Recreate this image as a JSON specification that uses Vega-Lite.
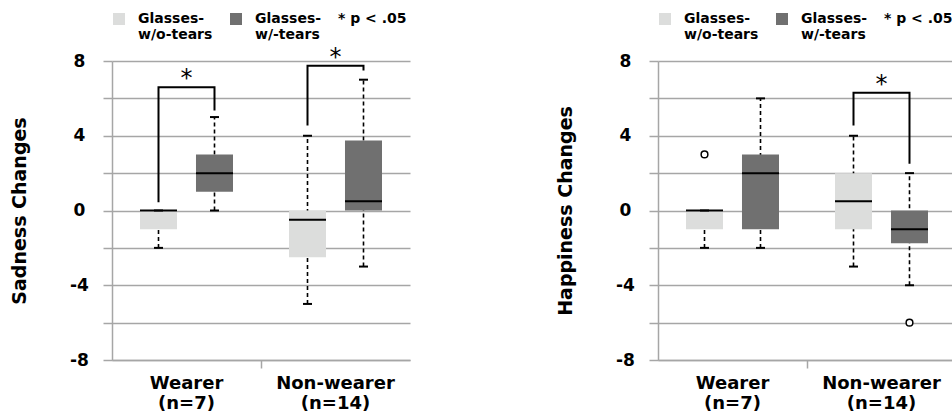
{
  "$schema": "https://vega.github.io/schema/vega-lite/v6.json",
  "padding": {"left": 10, "top": 12, "right": 0, "bottom": 0},
  "background": "white",
  "spacing": 146,
  "datasets": {
    "boxes": [
      {"panel": "S", "group": "Wearer", "cond": "Glasses-w/o-tears", "lo": -2, "q1": -1, "med": 0, "q3": 0, "hi": 0},
      {"panel": "S", "group": "Wearer", "cond": "Glasses-w/-tears", "lo": 0, "q1": 1, "med": 2, "q3": 3, "hi": 5},
      {"panel": "S", "group": "Non-wearer", "cond": "Glasses-w/o-tears", "lo": -5, "q1": -2.5, "med": -0.5, "q3": 0, "hi": 4},
      {"panel": "S", "group": "Non-wearer", "cond": "Glasses-w/-tears", "lo": -3, "q1": 0, "med": 0.5, "q3": 3.75, "hi": 7},
      {"panel": "H", "group": "Wearer", "cond": "Glasses-w/o-tears", "lo": -2, "q1": -1, "med": 0, "q3": 0, "hi": 0},
      {"panel": "H", "group": "Wearer", "cond": "Glasses-w/-tears", "lo": -2, "q1": -1, "med": 2, "q3": 3, "hi": 6},
      {"panel": "H", "group": "Non-wearer", "cond": "Glasses-w/o-tears", "lo": -3, "q1": -1, "med": 0.5, "q3": 2, "hi": 4},
      {"panel": "H", "group": "Non-wearer", "cond": "Glasses-w/-tears", "lo": -4, "q1": -1.75, "med": -1, "q3": 0, "hi": 2}
    ],
    "outliers": [
      {"panel": "H", "group": "Wearer", "cond": "Glasses-w/o-tears", "v": 3},
      {"panel": "H", "group": "Non-wearer", "cond": "Glasses-w/-tears", "v": -6}
    ],
    "brackets": [
      {"panel": "S", "br": "SW", "group": "Wearer", "cond": "Glasses-w/o-tears", "y": 0.5, "ord": 1},
      {"panel": "S", "br": "SW", "group": "Wearer", "cond": "Glasses-w/o-tears", "y": 6.6, "ord": 2},
      {"panel": "S", "br": "SW", "group": "Wearer", "cond": "Glasses-w/-tears", "y": 6.6, "ord": 3},
      {"panel": "S", "br": "SW", "group": "Wearer", "cond": "Glasses-w/-tears", "y": 5.4, "ord": 4},
      {"panel": "S", "br": "SN", "group": "Non-wearer", "cond": "Glasses-w/o-tears", "y": 4.6, "ord": 1},
      {"panel": "S", "br": "SN", "group": "Non-wearer", "cond": "Glasses-w/o-tears", "y": 7.75, "ord": 2},
      {"panel": "S", "br": "SN", "group": "Non-wearer", "cond": "Glasses-w/-tears", "y": 7.75, "ord": 3},
      {"panel": "S", "br": "SN", "group": "Non-wearer", "cond": "Glasses-w/-tears", "y": 7.55, "ord": 4},
      {"panel": "H", "br": "HN", "group": "Non-wearer", "cond": "Glasses-w/o-tears", "y": 4.6, "ord": 1},
      {"panel": "H", "br": "HN", "group": "Non-wearer", "cond": "Glasses-w/o-tears", "y": 6.3, "ord": 2},
      {"panel": "H", "br": "HN", "group": "Non-wearer", "cond": "Glasses-w/-tears", "y": 6.3, "ord": 3},
      {"panel": "H", "br": "HN", "group": "Non-wearer", "cond": "Glasses-w/-tears", "y": 2.55, "ord": 4}
    ],
    "stars": [
      {"panel": "S", "group": "Wearer", "y": 6.6, "t": "*"},
      {"panel": "S", "group": "Non-wearer", "y": 7.75, "t": "*"},
      {"panel": "H", "group": "Non-wearer", "y": 6.3, "t": "*"}
    ]
  },
  "resolve": {"scale": {"color": "independent"}, "legend": {"color": "independent"}},
  "hconcat": [
    {
      "width": 298,
      "height": 299,
      "encoding": {
        "x": {
          "field": "group", "type": "nominal", "title": null,
          "scale": {"domain": ["Wearer", "Non-wearer"], "paddingInner": 0, "paddingOuter": 0},
          "axis": {
            "labelAngle": 0,
            "labelExpr": "datum.value === 'Wearer' ? ['Wearer', '(n=7)'] : ['Non-wearer', '(n=14)']",
            "labelFont": "DejaVu Sans", "labelFontWeight": "bold", "labelFontSize": 18, "labelColor": "black",
            "labelLineHeight": 20, "labelPadding": 6, "labelBaseline": "top",
            "domainColor": "#a6a6a6", "domainWidth": 1.5,
            "tickSize": 8, "tickColor": "#a6a6a6", "tickWidth": 1.5, "bandPosition": 1,
            "tickOpacity": {"condition": {"test": "datum.value === 'Wearer'", "value": 1}, "value": 0},
            "grid": false
          }
        }
      },
      "layer": [
        {
          "data": {"name": "boxes"},
          "transform": [{"filter": "datum.panel === 'S'"}],
          "mark": {"type": "rule", "color": "black", "strokeWidth": 1.6, "strokeDash": [4, 3]},
          "encoding": {
            "xOffset": {"field": "cond", "type": "nominal", "scale": {"domain": ["Glasses-w/o-tears", "Glasses-w/-tears"], "paddingInner": 0.339, "paddingOuter": 0.5}},
            "y": {
              "field": "lo", "type": "quantitative",
              "scale": {"domain": [-8, 8], "nice": false, "zero": false},
              "axis": {
                "values": [-8, -6, -4, -2, 0, 2, 4, 6, 8],
                "tickCount": 20, "labelOverlap": false,
                "labelExpr": "datum.value % 4 === 0 ? toString(datum.value) : ' '",
                "tickSize": 9, "tickColor": "#a6a6a6", "tickWidth": 1.5,
                "domainColor": "#a6a6a6", "domainWidth": 1.5,
                "grid": true, "gridColor": "#a6a6a6", "gridWidth": 1.5,
                "labelAlign": "center", "labelPadding": 24,
                "labelFont": "DejaVu Sans", "labelFontSize": 17, "labelFontWeight": "bold", "labelColor": "black",
                "title": "Sadness Changes", "titleFont": "DejaVu Sans", "titleFontSize": 19, "titleFontWeight": "bold", "titleColor": "black", "titlePadding": 40
              }
            },
            "y2": {"field": "hi"}
          }
        },
        {
          "data": {"name": "boxes"},
          "transform": [{"filter": "datum.panel === 'S'"}],
          "mark": {"type": "bar", "opacity": 1},
          "encoding": {
            "xOffset": {"field": "cond", "type": "nominal", "scale": {"domain": ["Glasses-w/o-tears", "Glasses-w/-tears"], "paddingInner": 0.339, "paddingOuter": 0.5}},
            "y": {"field": "q1", "type": "quantitative"},
            "y2": {"field": "q3"},
            "color": {
              "field": "cond", "type": "nominal",
              "scale": {"domain": ["Glasses-w/o-tears", "Glasses-w/-tears"], "range": ["#dcdddc", "#707070"]},
              "legend": {
                "orient": "top", "direction": "horizontal",
                "title": "* p < .05", "titleOrient": "right", "titleAnchor": "start", "titleFont": "DejaVu Sans", "titleFontSize": 14, "titleFontWeight": "bold", "titleColor": "black", "titleBaseline": "top", "titlePadding": 17,
                "labelExpr": "datum.value === 'Glasses-w/o-tears' ? ['Glasses-', 'w/o-tears'] : ['Glasses-', 'w/-tears']",
                "labelFont": "DejaVu Sans", "labelFontSize": 14, "labelFontWeight": "bold", "labelColor": "black", "labelBaseline": "alphabetic", "labelLimit": 0,
                "symbolType": "square", "symbolSize": 144, "symbolStrokeWidth": 0, "symbolOpacity": 1,
                "columnPadding": 16, "labelOffset": 12, "offset": 19,
                "encode": {"labels": {"update": {"dy": {"value": 4}}}}
              }
            }
          }
        },
        {
          "data": {"name": "boxes"},
          "transform": [{"filter": "datum.panel === 'S'"}],
          "mark": {"type": "tick", "color": "black", "size": 37, "thickness": 2, "opacity": 1},
          "encoding": {
            "xOffset": {"field": "cond", "type": "nominal"},
            "y": {"field": "med", "type": "quantitative"}
          }
        },
        {
          "data": {"name": "boxes"},
          "transform": [{"filter": "datum.panel === 'S'"}],
          "mark": {"type": "tick", "color": "black", "size": 9, "thickness": 2, "opacity": 1},
          "encoding": {
            "xOffset": {"field": "cond", "type": "nominal"},
            "y": {"field": "lo", "type": "quantitative"}
          }
        },
        {
          "data": {"name": "boxes"},
          "transform": [{"filter": "datum.panel === 'S'"}],
          "mark": {"type": "tick", "color": "black", "size": 9, "thickness": 2, "opacity": 1},
          "encoding": {
            "xOffset": {"field": "cond", "type": "nominal"},
            "y": {"field": "hi", "type": "quantitative"}
          }
        },
        {
          "data": {"name": "brackets"},
          "transform": [{"filter": "datum.panel === 'S'"}],
          "mark": {"type": "line", "color": "black", "strokeWidth": 2, "strokeCap": "square"},
          "encoding": {
            "xOffset": {"field": "cond", "type": "nominal"},
            "y": {"field": "y", "type": "quantitative"},
            "detail": {"field": "br"},
            "order": {"field": "ord", "type": "quantitative"}
          }
        },
        {
          "data": {"name": "stars"},
          "transform": [{"filter": "datum.panel === 'S'"}],
          "mark": {"type": "text", "font": "DejaVu Sans", "fontSize": 24, "baseline": "alphabetic", "align": "center", "color": "black", "dy": -1},
          "encoding": {
            "y": {"field": "y", "type": "quantitative"},
            "text": {"field": "t"}
          }
        }
      ]
    },
    {
      "width": 298,
      "height": 299,
      "encoding": {
        "x": {
          "field": "group", "type": "nominal", "title": null,
          "scale": {"domain": ["Wearer", "Non-wearer"], "paddingInner": 0, "paddingOuter": 0},
          "axis": {
            "labelAngle": 0,
            "labelExpr": "datum.value === 'Wearer' ? ['Wearer', '(n=7)'] : ['Non-wearer', '(n=14)']",
            "labelFont": "DejaVu Sans", "labelFontWeight": "bold", "labelFontSize": 18, "labelColor": "black",
            "labelLineHeight": 20, "labelPadding": 6, "labelBaseline": "top",
            "domainColor": "#a6a6a6", "domainWidth": 1.5,
            "tickSize": 8, "tickColor": "#a6a6a6", "tickWidth": 1.5, "bandPosition": 1,
            "tickOpacity": {"condition": {"test": "datum.value === 'Wearer'", "value": 1}, "value": 0},
            "grid": false
          }
        }
      },
      "layer": [
        {
          "data": {"name": "boxes"},
          "transform": [{"filter": "datum.panel === 'H'"}],
          "mark": {"type": "rule", "color": "black", "strokeWidth": 1.6, "strokeDash": [4, 3]},
          "encoding": {
            "xOffset": {"field": "cond", "type": "nominal", "scale": {"domain": ["Glasses-w/o-tears", "Glasses-w/-tears"], "paddingInner": 0.339, "paddingOuter": 0.5}},
            "y": {
              "field": "lo", "type": "quantitative",
              "scale": {"domain": [-8, 8], "nice": false, "zero": false},
              "axis": {
                "values": [-8, -6, -4, -2, 0, 2, 4, 6, 8],
                "tickCount": 20, "labelOverlap": false,
                "labelExpr": "datum.value % 4 === 0 ? toString(datum.value) : ' '",
                "tickSize": 9, "tickColor": "#a6a6a6", "tickWidth": 1.5,
                "domainColor": "#a6a6a6", "domainWidth": 1.5,
                "grid": true, "gridColor": "#a6a6a6", "gridWidth": 1.5,
                "labelAlign": "center", "labelPadding": 24,
                "labelFont": "DejaVu Sans", "labelFontSize": 17, "labelFontWeight": "bold", "labelColor": "black",
                "title": "Happiness Changes", "titleFont": "DejaVu Sans", "titleFontSize": 19, "titleFontWeight": "bold", "titleColor": "black", "titlePadding": 40
              }
            },
            "y2": {"field": "hi"}
          }
        },
        {
          "data": {"name": "boxes"},
          "transform": [{"filter": "datum.panel === 'H'"}],
          "mark": {"type": "bar", "opacity": 1},
          "encoding": {
            "xOffset": {"field": "cond", "type": "nominal", "scale": {"domain": ["Glasses-w/o-tears", "Glasses-w/-tears"], "paddingInner": 0.339, "paddingOuter": 0.5}},
            "y": {"field": "q1", "type": "quantitative"},
            "y2": {"field": "q3"},
            "color": {
              "field": "cond", "type": "nominal",
              "scale": {"domain": ["Glasses-w/o-tears", "Glasses-w/-tears"], "range": ["#dcdddc", "#707070"]},
              "legend": {
                "orient": "top", "direction": "horizontal",
                "title": "* p < .05", "titleOrient": "right", "titleAnchor": "start", "titleFont": "DejaVu Sans", "titleFontSize": 14, "titleFontWeight": "bold", "titleColor": "black", "titleBaseline": "top", "titlePadding": 17,
                "labelExpr": "datum.value === 'Glasses-w/o-tears' ? ['Glasses-', 'w/o-tears'] : ['Glasses-', 'w/-tears']",
                "labelFont": "DejaVu Sans", "labelFontSize": 14, "labelFontWeight": "bold", "labelColor": "black", "labelBaseline": "alphabetic", "labelLimit": 0,
                "symbolType": "square", "symbolSize": 144, "symbolStrokeWidth": 0, "symbolOpacity": 1,
                "columnPadding": 16, "labelOffset": 12, "offset": 19,
                "encode": {"labels": {"update": {"dy": {"value": 4}}}}
              }
            }
          }
        },
        {
          "data": {"name": "boxes"},
          "transform": [{"filter": "datum.panel === 'H'"}],
          "mark": {"type": "tick", "color": "black", "size": 37, "thickness": 2, "opacity": 1},
          "encoding": {
            "xOffset": {"field": "cond", "type": "nominal"},
            "y": {"field": "med", "type": "quantitative"}
          }
        },
        {
          "data": {"name": "boxes"},
          "transform": [{"filter": "datum.panel === 'H'"}],
          "mark": {"type": "tick", "color": "black", "size": 9, "thickness": 2, "opacity": 1},
          "encoding": {
            "xOffset": {"field": "cond", "type": "nominal"},
            "y": {"field": "lo", "type": "quantitative"}
          }
        },
        {
          "data": {"name": "boxes"},
          "transform": [{"filter": "datum.panel === 'H'"}],
          "mark": {"type": "tick", "color": "black", "size": 9, "thickness": 2, "opacity": 1},
          "encoding": {
            "xOffset": {"field": "cond", "type": "nominal"},
            "y": {"field": "hi", "type": "quantitative"}
          }
        },
        {
          "data": {"name": "outliers"},
          "transform": [{"filter": "datum.panel === 'H'"}],
          "mark": {"type": "point", "shape": "circle", "size": 45, "filled": false, "fill": "white", "stroke": "black", "strokeWidth": 1.5, "opacity": 1},
          "encoding": {
            "xOffset": {"field": "cond", "type": "nominal"},
            "y": {"field": "v", "type": "quantitative"}
          }
        },
        {
          "data": {"name": "brackets"},
          "transform": [{"filter": "datum.panel === 'H'"}],
          "mark": {"type": "line", "color": "black", "strokeWidth": 2, "strokeCap": "square"},
          "encoding": {
            "xOffset": {"field": "cond", "type": "nominal"},
            "y": {"field": "y", "type": "quantitative"},
            "detail": {"field": "br"},
            "order": {"field": "ord", "type": "quantitative"}
          }
        },
        {
          "data": {"name": "stars"},
          "transform": [{"filter": "datum.panel === 'H'"}],
          "mark": {"type": "text", "font": "DejaVu Sans", "fontSize": 24, "baseline": "alphabetic", "align": "center", "color": "black", "dy": -1},
          "encoding": {
            "y": {"field": "y", "type": "quantitative"},
            "text": {"field": "t"}
          }
        }
      ]
    }
  ],
  "config": {
    "view": {"stroke": null},
    "font": "DejaVu Sans"
  }
}
